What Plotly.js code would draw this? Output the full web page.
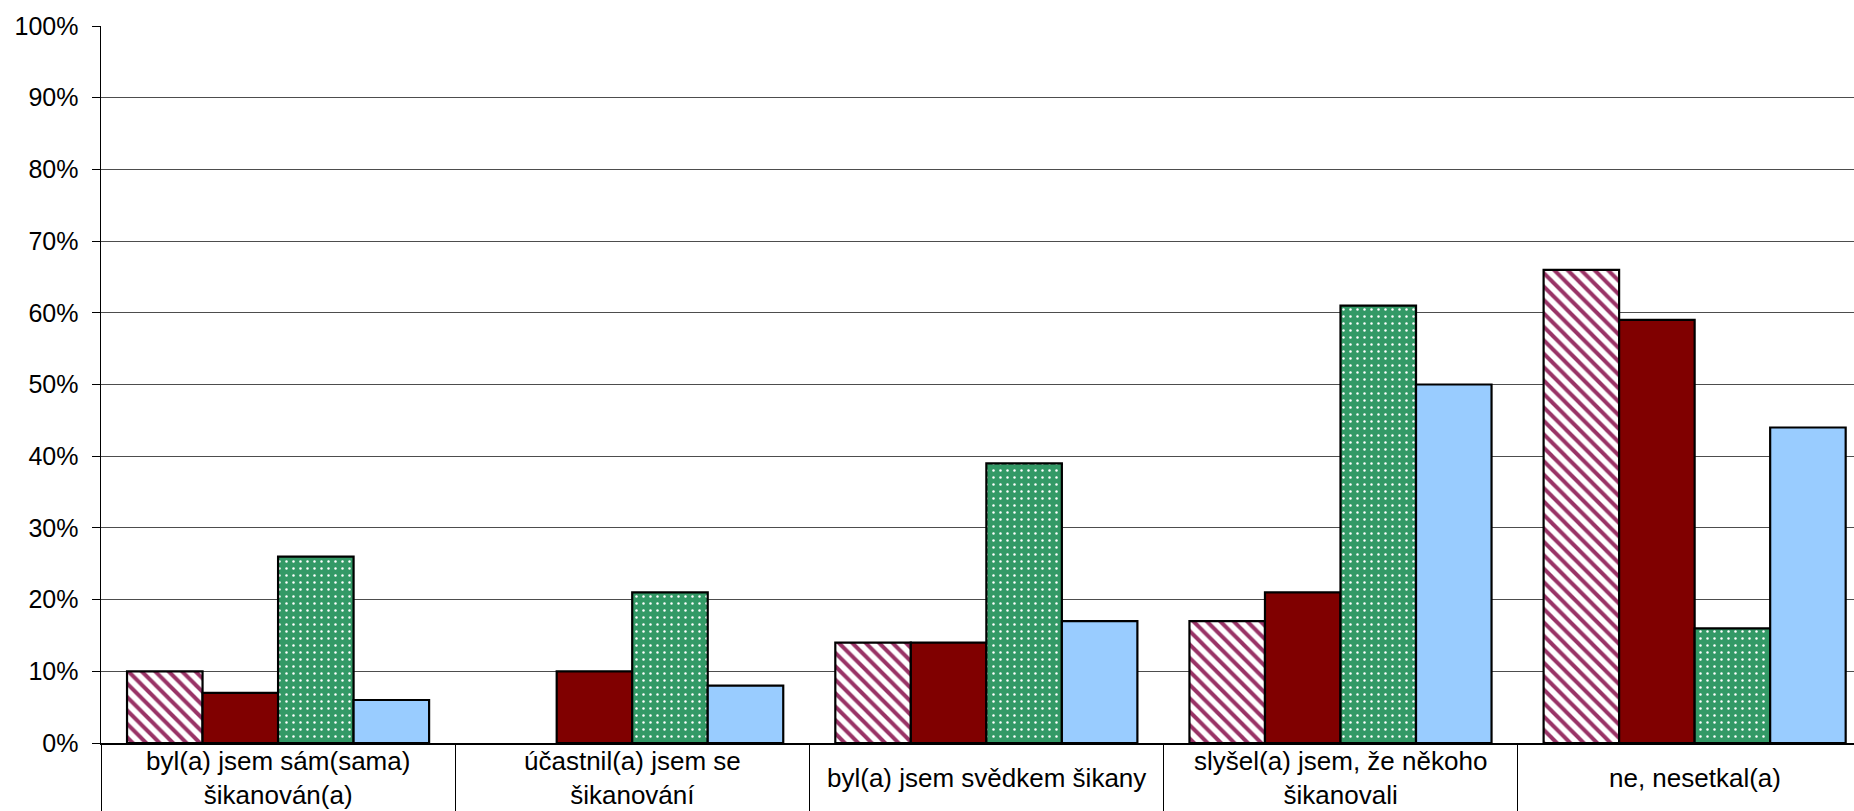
<!DOCTYPE html>
<html>
<head>
<meta charset="utf-8">
<script src="https://cdn.plot.ly/plotly-3.0.1.min.js"></script>
<style>
html,body{margin:0;padding:0;overflow:hidden;background:#fff;}
#chart{width:1854px;height:811px;}
</style>
</head>
<body>
<div id="chart"></div>
<script>
// Categories (x axis)
var categories = [
  "byl(a) jsem sám(sama)<br>šikanován(a)",
  "účastnil(a) jsem se<br>šikanování",
  "byl(a) jsem svědkem šikany",
  "slyšel(a) jsem, že někoho<br>šikanovali",
  "ne, nesetkal(a)"
];
var catKeys = ["c1", "c2", "c3", "c4", "c5"];

// Series values (%)
var series1 = [10, 0, 14, 17, 66];   // hatched
var series2 = [7, 10, 14, 21, 59];   // dark red
var series3 = [26, 21, 39, 61, 16];  // green dotted
var series4 = [6, 8, 17, 50, 44];    // light blue

// Y axis ticks
var yTickVals = [0, 10, 20, 30, 40, 50, 60, 70, 80, 90, 100];
var yTickText = yTickVals.map(function(v){ return v + "%"; });

function outline(vals){
  return {color: "#000000", width: vals.map(function(v){ return v === 0 ? 0 : 2.2; })};
}

var traces = [
  {type: "bar", x: catKeys, y: series1, showlegend: false, hoverinfo: "y",
   marker: {color: "#ffffff", line: outline(series1),
            pattern: {shape: "\\", fgcolor: "#993366", bgcolor: "#ffffff", size: 9.5, solidity: 0.42}}},
  {type: "bar", x: catKeys, y: series2, showlegend: false, hoverinfo: "y",
   marker: {color: "#800000", line: outline(series2)}},
  {type: "bar", x: catKeys, y: series3, showlegend: false, hoverinfo: "y",
   marker: {color: "#339966", line: outline(series3),
            pattern: {shape: ".", fgcolor: "#ffffff", bgcolor: "#339966", size: 7, solidity: 0.1}}},
  {type: "bar", x: catKeys, y: series4, showlegend: false, hoverinfo: "y",
   marker: {color: "#99CCFF", line: outline(series4)}}
];

var annotations = catKeys.map(function(k, i){
  return {x: k, xref: "x", y: 0, yref: "paper", yanchor: "middle", xanchor: "center",
          yshift: -35, text: categories[i], showarrow: false, align: "center",
          font: {family: "Liberation Sans, Arial, sans-serif", size: 26, color: "#000"}};
});

var layout = {
  width: 1854, height: 811,
  margin: {l: 101, r: 0, t: 26, b: 68},
  paper_bgcolor: "#ffffff", plot_bgcolor: "#ffffff",
  barmode: "group", bargap: 0.147, bargroupgap: 0,
  font: {family: "Liberation Sans, Arial, sans-serif", size: 25, color: "#000"},
  xaxis: {
    type: "category", range: [-0.5, 4.45],
    showticklabels: false, ticks: "outside", tickson: "boundaries",
    ticklen: 70, tickcolor: "#000", tickwidth: 1,
    showline: true, linecolor: "#000", linewidth: 1.5,
    showgrid: false, zeroline: false, fixedrange: true
  },
  yaxis: {
    range: [0, 100], tickvals: yTickVals, ticktext: yTickText,
    ticks: "outside", ticklen: 8, tickcolor: "#000", tickwidth: 1,
    ticklabelstandoff: 8,
    showline: true, linecolor: "#000", linewidth: 1.5,
    showgrid: true, gridcolor: "#4d4d4d", gridwidth: 1,
    zeroline: false, fixedrange: true,
    tickfont: {family: "Liberation Sans, Arial, sans-serif", size: 25, color: "#000"}
  },
  annotations: annotations
};

Plotly.newPlot("chart", traces, layout, {staticPlot: true, displayModeBar: false});
</script>
</body>
</html>
